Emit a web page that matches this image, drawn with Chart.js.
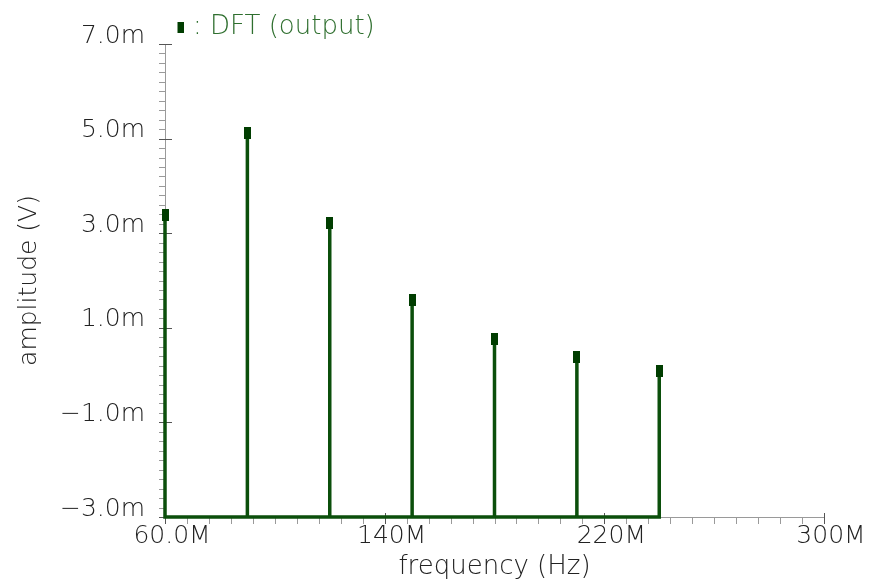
<!DOCTYPE html>
<html>
<head>
<meta charset="utf-8">
<script src="https://cdn.jsdelivr.net/npm/chart.js@4.4.1/dist/chart.umd.min.js"></script>
<style>
  html, body { margin: 0; padding: 0; background: #ffffff; }
  #wrap { width: 870px; height: 583px; position: relative; }
</style>
</head>
<body>
<div id="wrap"><canvas id="c" width="870" height="583"></canvas></div>
<script>
// ---- data (frequency in MHz, amplitude in mV) ----
const frequencies = [60, 90, 120, 150, 180, 210, 240];
const amplitudes  = [3.39, 5.11, 3.21, 1.59, 0.77, 0.39, 0.09];
const seriesName  = 'DFT (output)';
const xTickValues = [60, 140, 220, 300];
const yTickValues = [-3, -1, 1, 3, 5, 7];
const X_MIN = 60, X_MAX = 300, X_MAJOR = 80, X_MINOR = 8;
const Y_MIN = -3, Y_MAX = 7, Y_MAJOR = 2, Y_MINOR = 0.2;

// stem polyline built from the data: baseline -> value -> baseline for each sample
const stemPoints = [];
frequencies.forEach((f, i) => {
  stemPoints.push({x: f, y: Y_MIN});
  stemPoints.push({x: f, y: amplitudes[i]});
  stemPoints.push({x: f, y: Y_MIN});
});
const markerPoints = frequencies.map((f, i) => ({x: f, y: amplitudes[i]}));

// rectangular marker glyph
function makeMarker(w, h, rx, rw, color) {
  const cv = document.createElement('canvas');
  cv.width = w; cv.height = h;
  const g = cv.getContext('2d');
  g.fillStyle = color;
  g.fillRect(rx, 0, rw, h);
  return cv;
}
const markerImg = makeMarker(7, 12, 0, 7, '#003d00');
const legendImg = makeMarker(14, 11, 8, 6, '#003d00');

const FONT = "'DejaVu Sans', sans-serif";
const TEXT = '#222222';
const AXIS = '#9a9a9a';

function fmtY(v) {
  const s = Math.abs(v).toFixed(1) + 'm';
  return v < 0 ? '\u2212' + s : s;
}
function fmtX(v) {
  return Number(v).toPrecision(3) + 'M';
}

const tickPlugin = {
  id: 'minorTicks',
  beforeDraw(chart) {
    const lg = chart.legend;
    if (lg && !lg._shifted) { lg.top += 6; lg.bottom += 6; lg._shifted = true; }
  },
  beforeDatasetsDraw(chart) {
    const ctx = chart.ctx;
    const xs = chart.scales.x, ys = chart.scales.y;
    ctx.save();
    ctx.lineWidth = 1;
    const nY = Math.round((Y_MAX - Y_MIN) / Y_MINOR);
    for (let i = 0; i <= nY; i++) {
      const v = Y_MIN + i * Y_MINOR;
      const py = Math.round(ys.getPixelForValue(v)) + 0.5;
      const major = (i % Math.round(Y_MAJOR / Y_MINOR)) === 0;
      ctx.strokeStyle = major ? '#555555' : AXIS;
      ctx.beginPath();
      ctx.moveTo(xs.left - 6, py);
      ctx.lineTo(major ? xs.left + 7 : xs.left, py);
      ctx.stroke();
    }
    const nX = Math.round((X_MAX - X_MIN) / X_MINOR);
    for (let i = 0; i <= nX; i++) {
      const v = X_MIN + i * X_MINOR;
      const px = Math.round(xs.getPixelForValue(v)) + 0.5;
      const major = (i % Math.round(X_MAJOR / X_MINOR)) === 0;
      ctx.strokeStyle = major ? '#555555' : AXIS;
      ctx.beginPath();
      ctx.moveTo(px, major ? ys.bottom - 4 : ys.bottom);
      ctx.lineTo(px, ys.bottom + 7);
      ctx.stroke();
    }
    ctx.restore();
  }
};

new Chart(document.getElementById('c'), {
  type: 'scatter',
  data: {
    datasets: [
      {
        label: 'stems',
        data: stemPoints,
        showLine: true,
        borderColor: '#0b4f0b',
        borderWidth: 3.5,
        pointRadius: 0,
        pointHoverRadius: 0,
        tension: 0,
        clip: false,
        order: 2
      },
      {
        label: seriesName,
        data: markerPoints,
        showLine: false,
        pointStyle: markerImg,
        backgroundColor: '#003d00',
        borderColor: '#003d00',
        clip: false,
        order: 1
      }
    ]
  },
  options: {
    responsive: false,
    animation: false,
    devicePixelRatio: 1,
    layout: { padding: { left: 0, right: 46, top: 0, bottom: 0 } },
    plugins: {
      tooltip: { enabled: false },
      legend: {
        display: true,
        position: 'top',
        align: 'start',
        fullSize: false,
        labels: {
          usePointStyle: true,
          boxWidth: 7,
          boxHeight: 11,
          padding: 8,
          color: '#2f6f2f',
          font: { family: FONT, size: 26, weight: '200' },
          generateLabels: (chart) => [{
            text: ': ' + seriesName,
            datasetIndex: 1,
            pointStyle: legendImg,
            fillStyle: '#003d00',
            strokeStyle: '#003d00',
            lineWidth: 0,
            fontColor: '#2f6f2f',
            hidden: false
          }]
        }
      }
    },
    scales: {
      x: {
        type: 'linear',
        min: X_MIN, max: X_MAX,
        afterBuildTicks: (scale) => { scale.ticks = xTickValues.map(v => ({value: v})); },
        afterFit: (scale) => { scale.height = 66; },
        grid: { display: false },
        border: { display: true, color: AXIS, width: 1 },
        ticks: {
          autoSkip: false, maxRotation: 0, padding: -4, labelOffset: 7,
          color: TEXT,
          font: { family: FONT, size: 25, weight: '200' },
          callback: (v) => fmtX(v)
        },
        title: {
          display: true, text: 'frequency (Hz)', color: TEXT,
          font: { family: FONT, size: 26, weight: '200' },
          padding: { top: 0, bottom: 0 }
        }
      },
      y: {
        type: 'linear',
        min: Y_MIN, max: Y_MAX,
        afterBuildTicks: (scale) => { scale.ticks = yTickValues.map(v => ({value: v})); },
        afterFit: (scale) => { scale.width = 165; },
        grid: { display: false },
        border: { display: true, color: AXIS, width: 1 },
        ticks: {
          autoSkip: false, padding: 12, labelOffset: -8,
          color: TEXT,
          font: { family: FONT, size: 25, weight: '200' },
          callback: (v) => fmtY(v)
        },
        title: {
          display: true, text: 'amplitude (V)', color: TEXT,
          font: { family: FONT, size: 25, weight: '200' },
          padding: { top: 14, bottom: 0 }
        }
      }
    }
  },
  plugins: [tickPlugin]
});
</script>
</body>
</html>
